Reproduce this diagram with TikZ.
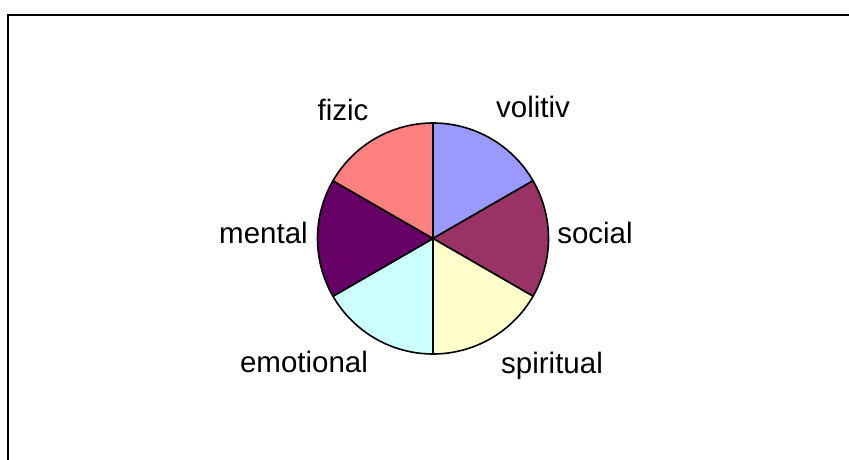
\documentclass[tikz,border=0pt]{standalone}
\usepackage{fontspec}
\setmainfont{Liberation Sans}
\definecolor{cVol}{HTML}{9999FF}
\definecolor{cSoc}{HTML}{993366}
\definecolor{cSpi}{HTML}{FFFFCC}
\definecolor{cEmo}{HTML}{CCFFFF}
\definecolor{cMen}{HTML}{660066}
\definecolor{cFiz}{HTML}{FF8080}
\begin{document}
\begin{tikzpicture}[x=1pt,y=-1pt,
  slice/.style={draw=black,line width=1.6pt,line join=round},
  lbl/.style={anchor=base,inner sep=0pt,font=\fontsize{29.5}{31}\selectfont}]
\useasboundingbox (0,0) rectangle (849,460);
\clip (0,0) rectangle (849,460);
\draw[line width=2.2pt] (8,15) rectangle (870,480);
\coordinate (c) at (433,238.5);
\def\R{115.5}
\foreach \a/\b/\col in {90/30/cVol, 30/-30/cSoc, -30/-90/cSpi, -90/-150/cEmo, -150/-210/cMen, 150/90/cFiz}{
  \filldraw[slice,fill=\col] (c) -- ++(-\a:\R) arc[start angle=-\a,end angle=-\b,radius=\R] -- cycle;
}
\node[lbl] (fizic) at (343,120) {fizic};
\node[lbl] (volitiv) at (533,117.5) {volitiv};
\node[lbl] (mental) at (263.5,243) {mental};
\node[lbl] (social) at (595,243) {social};
\node[lbl] (emotional) at (304,372.5) {emotional};
\node[lbl] (spiritual) at (552,373) {spiritual};
\end{tikzpicture}
\end{document}
